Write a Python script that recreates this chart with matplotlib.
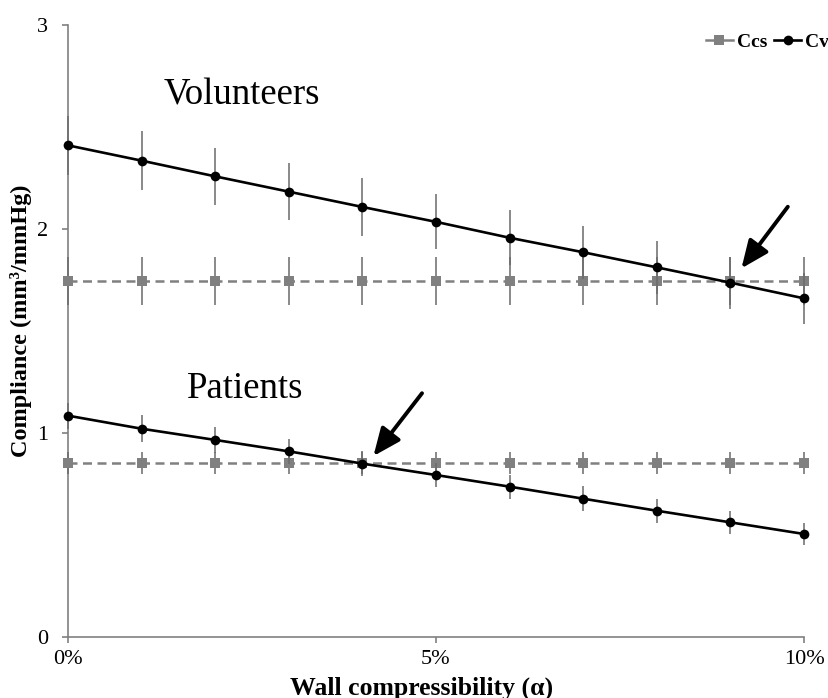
import matplotlib
matplotlib.use("Agg")
import matplotlib.pyplot as plt
from matplotlib.lines import Line2D

# ---------------- data ----------------
alpha_pct = [0, 1, 2, 3, 4, 5, 6, 7, 8, 9, 10]
x_ticks = [0, 5, 10]
x_tick_labels = ["0%", "5%", "10%"]
y_ticks = [0, 1, 2, 3]

vol_ccs = [1.745] * 11
vol_ccs_err = [0.118] * 11
vol_cv = [2.41, 2.335, 2.258, 2.183, 2.108, 2.035, 1.957, 1.886, 1.812, 1.737, 1.66]
vol_cv_err = [0.145, 0.145, 0.14, 0.14, 0.14, 0.135, 0.134, 0.13, 0.13, 0.127, 0.125]

pat_ccs = [0.854] * 11
pat_ccs_err = [0.055] * 11
pat_cv = [1.085, 1.021, 0.966, 0.91, 0.85, 0.794, 0.737, 0.678, 0.619, 0.562, 0.505]
pat_cv_err = [0.063, 0.065, 0.062, 0.06, 0.062, 0.06, 0.059, 0.06, 0.059, 0.057, 0.054]

series_names = ["Ccs", "Cv"]
group_labels = ["Volunteers", "Patients"]
group_label_pos = [(1.30, 2.61), (1.61, 1.17)]
# arrows: (tail, tip) in data coordinates
arrows = [((9.78, 2.109), (9.15, 1.807)), ((4.81, 1.195), (4.15, 0.887))]

# ---------------- style ----------------
FONT = "Liberation Serif"
plt.rcParams["font.family"] = [FONT, "DejaVu Serif"]
GRAY = "#808080"
ERR = "#6a6a6a"

fig = plt.figure(figsize=(8.29, 6.98), dpi=100)
ax = fig.add_axes([68 / 829, 1 - 637 / 698, (804 - 68) / 829, (637 - 25) / 698])

def draw(y, yerr, kind):
    if kind == "Ccs":
        ax.errorbar(alpha_pct, y, yerr=yerr, color=GRAY, ecolor=ERR, elinewidth=1.1,
                    capsize=2.5, capthick=1.1, marker="s", markersize=6.5,
                    markeredgewidth=0, linestyle=(0, (3.6, 2.2)), linewidth=1.8,
                    clip_on=False, zorder=3)
    else:
        ax.errorbar(alpha_pct, y, yerr=yerr, color="black", ecolor=ERR, elinewidth=1.1,
                    capsize=2.5, capthick=1.1, marker="o", markersize=7,
                    markeredgewidth=0, linestyle="-", linewidth=1.9,
                    clip_on=False, zorder=4)

draw(vol_ccs, vol_ccs_err, "Ccs")
draw(pat_ccs, pat_ccs_err, "Ccs")
draw(vol_cv, vol_cv_err, "Cv")
draw(pat_cv, pat_cv_err, "Cv")

ax.set_xlim(0, 10)
ax.set_ylim(0, 3)
ax.set_xticks(x_ticks)
ax.set_xticklabels(x_tick_labels)
ax.set_yticks(y_ticks)
ax.tick_params(axis="both", direction="out", length=4.5, width=1.2, color=GRAY,
               labelsize=16, labelcolor="black")
ax.tick_params(axis="x", pad=5)
ax.tick_params(axis="y", pad=10)
for s in ["top", "right"]:
    ax.spines[s].set_visible(False)
for s in ["left", "bottom"]:
    ax.spines[s].set_color(GRAY)
    ax.spines[s].set_linewidth(1.2)

ax.set_xlabel("Wall compressibility (α)", fontsize=18.5, fontweight="bold")
ax.xaxis.set_label_coords(0.481, -0.064)
ax.set_ylabel("Compliance (mm³/mmHg)", fontsize=17.5, fontweight="bold")
ax.yaxis.label.set_verticalalignment("center")
ax.yaxis.label.set_horizontalalignment("center")
ax.yaxis.set_label_coords(-0.064, 0.516)

for lab, (lx, ly) in zip(group_labels, group_label_pos):
    ax.text(lx, ly, lab, fontsize=26.5, ha="left", va="baseline")

for tail, tip in arrows:
    ax.annotate("", xy=tip, xytext=tail,
                arrowprops=dict(arrowstyle="-|>,head_length=0.7,head_width=0.3",
                                lw=2.8, color="black", mutation_scale=24,
                                shrinkA=0, shrinkB=0), zorder=5)

handles = [
    Line2D([], [], color=GRAY, marker="s", markersize=6.5, markeredgewidth=0, linewidth=1.8),
    Line2D([], [], color="black", marker="o", markersize=7, markeredgewidth=0, linewidth=1.9),
]
fig.legend(handles, series_names, loc="center right", bbox_to_anchor=(1.0, 1 - 42 / 698),
           ncol=2, frameon=False, borderpad=0, borderaxespad=0, handlelength=1.4,
           handletextpad=0.2, columnspacing=0.35, prop={"family": FONT, "weight": "bold", "size": 14})

fig.savefig("out.png", dpi=100)
